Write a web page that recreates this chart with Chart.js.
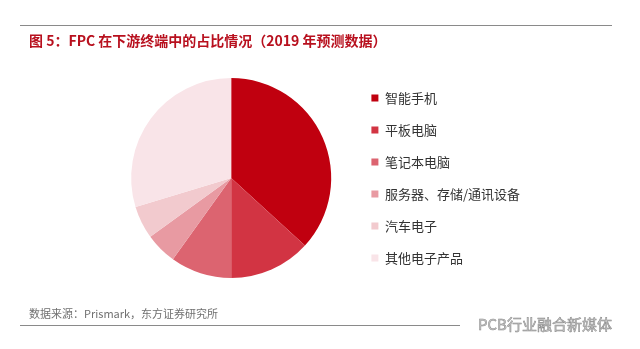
<!DOCTYPE html>
<html>
<head>
<meta charset="utf-8">
<script src="https://cdn.jsdelivr.net/npm/chart.js@4.4.0/dist/chart.umd.min.js"></script>
<style>
  body { margin: 0; background: #fff; font-family: "Noto Sans CJK SC", sans-serif; }
  #wrap { position: relative; width: 640px; height: 349px; overflow: hidden; }
  #pie { position: absolute; left: 0; top: 0; }
  .rule { position: absolute; height: 1px; background: #8a8a8a; }
  #title { position: absolute; left: 29px; top: 30px; font-size: 14px; font-weight: bold; color: #b8101e; white-space: nowrap; }
  #source { position: absolute; left: 29px; top: 305px; font-size: 11px; color: #707070; white-space: nowrap; }
  #mark { position: absolute; left: 478px; top: 313px; font-size: 15px; color: #c8c8c8; white-space: nowrap;
          -webkit-text-stroke: 0.5px #888; }
</style>
</head>
<body>
<div id="wrap">
  <canvas id="pie" width="640" height="349"></canvas>
  <div class="rule" style="left:20px; top:25px; width:592px;"></div>
  <div id="title">图 5：FPC 在下游终端中的占比情况（2019 年预测数据）</div>
  <div id="source">数据来源：Prismark，东方证券研究所</div>
  <div class="rule" style="left:20px; top:325px; width:440px;"></div>
  <div id="mark">PCB行业融合新媒体</div>
</div>
<script>
// FPC 下游终端占比 (2019 预测), 百分比
const categories = ['智能手机', '平板电脑', '笔记本电脑', '服务器、存储/通讯设备', '汽车电子', '其他电子产品'];
const shares = [36.8, 13.2, 9.9, 5.1, 5.3, 29.7];
const sliceColors = ['#c0000f', '#d23443', '#dc6470', '#e89aa2', '#f2cace', '#f9e4e8'];

const ctx = document.getElementById('pie').getContext('2d');
const chart = new Chart(ctx, {
    type: 'pie',
    data: {
        labels: categories,
        datasets: [{
            data: shares,
            backgroundColor: sliceColors,
            borderWidth: 0
        }]
    },
    options: {
        responsive: false,
        animation: false,
        radius: 100,
        layout: {
            padding: { left: 110, right: 110, top: 28, bottom: 21 }
        },
        plugins: {
            tooltip: { enabled: false },
            legend: {
                position: 'right',
                labels: {
                    boxWidth: 7,
                    boxHeight: 7,
                    padding: 19,
                    color: '#333',
                    font: { family: '"Noto Sans CJK SC", sans-serif', size: 13 }
                }
            }
        }
    }
});
</script>
</body>
</html>
